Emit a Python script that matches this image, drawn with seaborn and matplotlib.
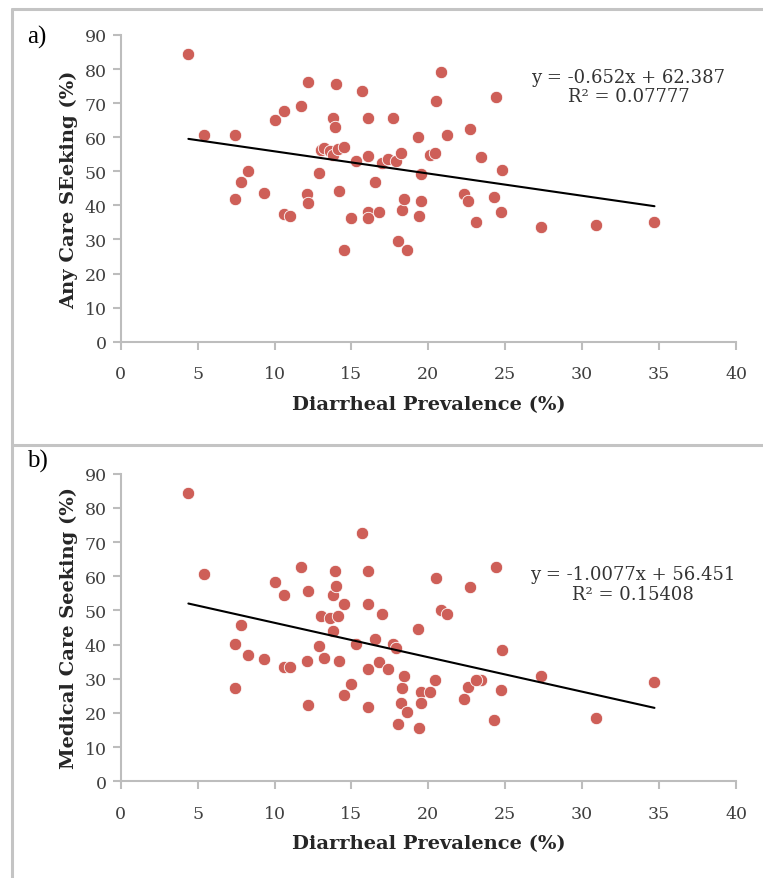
import matplotlib
matplotlib.use("Agg")
import matplotlib.pyplot as plt
from matplotlib.lines import Line2D
import numpy as np
import pandas as pd
import seaborn as sns

# ---- data ----
prevalence = [4.4, 5.4, 7.4, 7.4, 7.8, 8.3, 9.3, 10.0, 10.6, 10.6, 11.0, 11.7, 12.2, 12.1,
              12.2, 12.9, 13.0, 13.2, 13.6, 13.8, 14.1, 14.5, 13.8, 13.9, 14.0, 14.2, 14.5,
              15.0, 15.3, 15.7, 16.1, 16.1, 16.1, 16.1, 16.5, 16.8, 17.0, 17.4, 17.7, 17.9,
              18.2, 18.0, 18.3, 18.4, 18.6, 19.3, 19.5, 19.5, 19.4, 20.1, 20.4, 20.8, 20.5,
              24.4, 21.2, 22.7, 23.4, 24.8, 22.3, 22.6, 24.3, 24.7, 23.1, 27.3, 30.9, 34.7]
any_care = [84.3, 60.6, 60.6, 41.9, 46.9, 50.0, 43.7, 65.0, 67.6, 37.6, 36.8, 69.3, 76.2, 43.2,
            40.6, 49.4, 56.2, 56.9, 55.9, 54.8, 56.5, 57.0, 65.7, 63.1, 75.5, 44.3, 26.9,
            36.3, 53.1, 73.7, 65.7, 54.4, 38.1, 36.3, 46.9, 38.1, 52.5, 53.7, 65.7, 53.0,
            55.5, 29.5, 38.7, 41.9, 26.9, 60.0, 49.1, 41.3, 36.9, 54.8, 55.5, 79.2, 70.6,
            71.8, 60.6, 62.5, 54.3, 50.5, 43.4, 41.3, 42.4, 38.1, 35.0, 33.6, 34.3, 35.0]
medical_care = [84.3, 60.6, 40.3, 27.3, 45.8, 37.1, 35.9, 58.2, 54.6, 33.4, 33.4, 62.6, 55.7, 35.3,
                22.3, 39.6, 48.4, 36.0, 47.8, 43.9, 48.4, 52.0, 54.6, 61.4, 57.0, 35.3, 25.2,
                28.4, 40.3, 72.6, 61.4, 52.0, 32.8, 21.6, 41.6, 34.9, 48.9, 32.8, 40.1, 39.0,
                22.9, 16.7, 27.3, 30.9, 20.4, 44.6, 26.0, 22.9, 15.6, 26.0, 29.7, 50.2, 59.5,
                62.6, 48.9, 56.9, 29.6, 38.4, 24.1, 27.7, 17.9, 26.7, 29.6, 30.9, 18.5, 29.1]

fit_a = (-0.652, 62.387)
fit_b = (-1.0077, 56.451)
eq_a = ["y = -0.652x + 62.387", "R² = 0.07777"]
eq_b = ["y = -1.0077x + 56.451", "R² = 0.15408"]
x_ticks = [0, 5, 10, 15, 20, 25, 30, 35, 40]
y_ticks = [0, 10, 20, 30, 40, 50, 60, 70, 80, 90]

df = pd.DataFrame({"prev": prevalence, "any": any_care, "med": medical_care})

# ---- style ----
sns.set_theme(style="white")
plt.rcParams["font.family"] = ["DejaVu Serif"]

W, H = 763, 879
fig = plt.figure(figsize=(W / 100, H / 100), dpi=100)

DOT = "#CE5F58"
AXC = "#BDBDBD"
TXT = "#404040"


def panel(rect, ycol, ylabel, fit, eq, eq_pos, tag, tag_pos):
    ax = fig.add_axes(rect)
    sns.scatterplot(data=df, x="prev", y=ycol, ax=ax, color=DOT, s=80,
                    edgecolor="white", linewidth=0.6, zorder=3)
    xs = np.array([min(prevalence), max(prevalence)])
    sns.lineplot(x=xs, y=fit[0] * xs + fit[1], ax=ax, color="black", lw=1.5, zorder=4)
    ax.set_xlim(0, 40)
    ax.set_ylim(0, 90)
    ax.set_xticks(x_ticks)
    ax.set_yticks(y_ticks)
    ax.set_xticklabels([str(t) for t in x_ticks], fontsize=12.5, color=TXT)
    ax.set_yticklabels([str(t) for t in y_ticks], fontsize=12.5, color=TXT)
    for s in ["top", "right"]:
        ax.spines[s].set_visible(False)
    for s in ["left", "bottom"]:
        ax.spines[s].set_color(AXC)
        ax.spines[s].set_linewidth(1.5)
    ax.tick_params(axis="both", direction="out", length=6, width=1.5, color=AXC,
                   bottom=True, left=True)
    ax.tick_params(axis="x", pad=11)
    ax.tick_params(axis="y", pad=4)
    ax.set_xlabel("Diarrheal Prevalence (%)", fontsize=14, fontweight="bold",
                  color="#262626", labelpad=9)
    ax.set_ylabel(ylabel, fontsize=14, fontweight="bold", color="#262626", labelpad=5)
    ax.text(eq_pos[0], eq_pos[1], eq[0] + "\n" + eq[1], ha="center", va="center",
            multialignment="center", fontsize=13, color="#333333", linespacing=1.1,
            zorder=5)
    fig.text(tag_pos[0], tag_pos[1], tag, fontsize=18, family="Liberation Serif",
             color="black", ha="left", va="center")
    ax.patch.set_alpha(0)
    return ax


L = 120.7 / W
Wd = (736 - 120.7) / W
panel([L, 1 - 342.7 / H, Wd, (342.7 - 36) / H], "any", "Any Care SEeking (%)",
      fit_a, eq_a, (33.0, 74.8), "a)", (27 / W, 1 - 37 / H))
panel([L, 1 - 782.3 / H, Wd, (782.3 - 474.7) / H], "med", "Medical Care Seeking (%)",
      fit_b, eq_b, (33.3, 57.7), "b)", (27 / W, 1 - 461 / H))

# outer frame lines (figure coordinates)
bc = "#C4C4C4"
fig.add_artist(Line2D([12 / W, 1], [1 - 10 / H, 1 - 10 / H], color=bc, lw=2.2))
fig.add_artist(Line2D([12 / W, 1], [1 - 446 / H, 1 - 446 / H], color=bc, lw=2.2))
fig.add_artist(Line2D([12 / W, 12 / W], [1 - 10 / H, 0], color=bc, lw=2.2))

fig.savefig("out.png", dpi=100)
